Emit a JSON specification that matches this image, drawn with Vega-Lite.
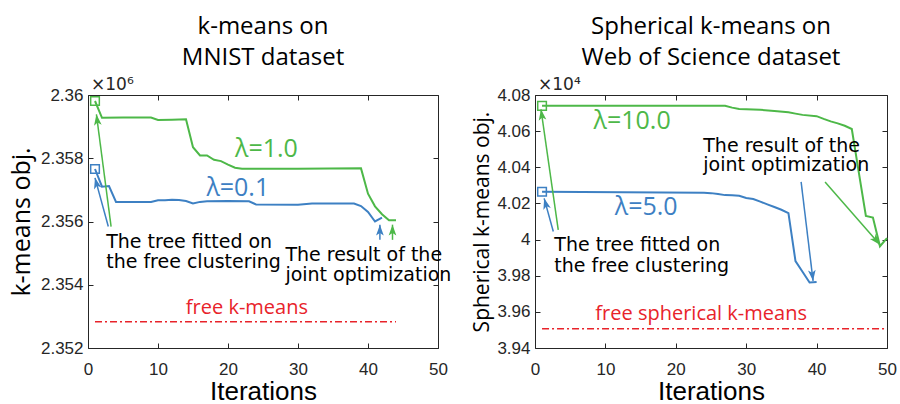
{
  "$schema": "https://vega.github.io/schema/vega-lite/v6.json",
  "background": "white",
  "padding": {"left": 8, "top": 14, "right": 8, "bottom": 0},
  "bounds": "flush",
  "spacing": 97,
  "datasets": {
    "lines": [
      {"panel": "L", "series": "g", "x": 1, "y": 2.35981},
      {"panel": "L", "series": "g", "x": 2, "y": 2.35928},
      {"panel": "L", "series": "g", "x": 5, "y": 2.35929},
      {"panel": "L", "series": "g", "x": 9, "y": 2.35929},
      {"panel": "L", "series": "g", "x": 10, "y": 2.35921},
      {"panel": "L", "series": "g", "x": 12, "y": 2.35922},
      {"panel": "L", "series": "g", "x": 14, "y": 2.35923},
      {"panel": "L", "series": "g", "x": 15, "y": 2.35835},
      {"panel": "L", "series": "g", "x": 16, "y": 2.35809},
      {"panel": "L", "series": "g", "x": 17, "y": 2.35809},
      {"panel": "L", "series": "g", "x": 18, "y": 2.35795},
      {"panel": "L", "series": "g", "x": 19, "y": 2.35791},
      {"panel": "L", "series": "g", "x": 20, "y": 2.3578},
      {"panel": "L", "series": "g", "x": 21, "y": 2.3577},
      {"panel": "L", "series": "g", "x": 22, "y": 2.35767},
      {"panel": "L", "series": "g", "x": 30, "y": 2.35767},
      {"panel": "L", "series": "g", "x": 39, "y": 2.35768},
      {"panel": "L", "series": "g", "x": 40, "y": 2.35688},
      {"panel": "L", "series": "g", "x": 41, "y": 2.35648},
      {"panel": "L", "series": "g", "x": 42, "y": 2.35623},
      {"panel": "L", "series": "g", "x": 43, "y": 2.35604},
      {"panel": "L", "series": "g", "x": 44, "y": 2.35604},
      {"panel": "L", "series": "b", "x": 1, "y": 2.35766},
      {"panel": "L", "series": "b", "x": 2, "y": 2.3571},
      {"panel": "L", "series": "b", "x": 3, "y": 2.35712},
      {"panel": "L", "series": "b", "x": 4, "y": 2.35662},
      {"panel": "L", "series": "b", "x": 9, "y": 2.35662},
      {"panel": "L", "series": "b", "x": 10, "y": 2.35667},
      {"panel": "L", "series": "b", "x": 11, "y": 2.35667},
      {"panel": "L", "series": "b", "x": 12, "y": 2.35669},
      {"panel": "L", "series": "b", "x": 13, "y": 2.35668},
      {"panel": "L", "series": "b", "x": 14, "y": 2.35665},
      {"panel": "L", "series": "b", "x": 15, "y": 2.35657},
      {"panel": "L", "series": "b", "x": 16, "y": 2.35662},
      {"panel": "L", "series": "b", "x": 17, "y": 2.35664},
      {"panel": "L", "series": "b", "x": 20, "y": 2.35665},
      {"panel": "L", "series": "b", "x": 23, "y": 2.35664},
      {"panel": "L", "series": "b", "x": 24, "y": 2.35654},
      {"panel": "L", "series": "b", "x": 30, "y": 2.35653},
      {"panel": "L", "series": "b", "x": 32, "y": 2.35657},
      {"panel": "L", "series": "b", "x": 38, "y": 2.35657},
      {"panel": "L", "series": "b", "x": 39, "y": 2.35649},
      {"panel": "L", "series": "b", "x": 40, "y": 2.3563},
      {"panel": "L", "series": "b", "x": 41, "y": 2.356},
      {"panel": "L", "series": "b", "x": 42, "y": 2.35612},
      {"panel": "R", "series": "g", "x": 1, "y": 4.074},
      {"panel": "R", "series": "g", "x": 27, "y": 4.074},
      {"panel": "R", "series": "g", "x": 28, "y": 4.073},
      {"panel": "R", "series": "g", "x": 29, "y": 4.0722},
      {"panel": "R", "series": "g", "x": 32, "y": 4.0718},
      {"panel": "R", "series": "g", "x": 34, "y": 4.0712},
      {"panel": "R", "series": "g", "x": 36, "y": 4.0704},
      {"panel": "R", "series": "g", "x": 37, "y": 4.0697},
      {"panel": "R", "series": "g", "x": 38, "y": 4.069},
      {"panel": "R", "series": "g", "x": 40, "y": 4.0683},
      {"panel": "R", "series": "g", "x": 41, "y": 4.0668},
      {"panel": "R", "series": "g", "x": 42, "y": 4.0654},
      {"panel": "R", "series": "g", "x": 43, "y": 4.0643},
      {"panel": "R", "series": "g", "x": 44, "y": 4.063},
      {"panel": "R", "series": "g", "x": 45, "y": 4.0612},
      {"panel": "R", "series": "g", "x": 46, "y": 4.037},
      {"panel": "R", "series": "g", "x": 47, "y": 4.0131},
      {"panel": "R", "series": "g", "x": 48, "y": 4.0122},
      {"panel": "R", "series": "g", "x": 49, "y": 3.9963},
      {"panel": "R", "series": "g", "x": 50, "y": 4.0008},
      {"panel": "R", "series": "b", "x": 1, "y": 4.02645},
      {"panel": "R", "series": "b", "x": 24, "y": 4.0259},
      {"panel": "R", "series": "b", "x": 25, "y": 4.0257},
      {"panel": "R", "series": "b", "x": 26, "y": 4.0252},
      {"panel": "R", "series": "b", "x": 27, "y": 4.0246},
      {"panel": "R", "series": "b", "x": 28, "y": 4.0245},
      {"panel": "R", "series": "b", "x": 29, "y": 4.0242},
      {"panel": "R", "series": "b", "x": 30, "y": 4.023},
      {"panel": "R", "series": "b", "x": 31, "y": 4.0224},
      {"panel": "R", "series": "b", "x": 32, "y": 4.021},
      {"panel": "R", "series": "b", "x": 33, "y": 4.0195},
      {"panel": "R", "series": "b", "x": 34, "y": 4.018},
      {"panel": "R", "series": "b", "x": 35, "y": 4.0165},
      {"panel": "R", "series": "b", "x": 36, "y": 4.0146},
      {"panel": "R", "series": "b", "x": 37, "y": 3.9881},
      {"panel": "R", "series": "b", "x": 38, "y": 3.9822},
      {"panel": "R", "series": "b", "x": 39, "y": 3.9762},
      {"panel": "R", "series": "b", "x": 40, "y": 3.9765}
    ],
    "free": [
      {"panel": "L", "x": 1, "y": 2.35283},
      {"panel": "L", "x": 44, "y": 2.35283},
      {"panel": "R", "x": 1, "y": 3.9506},
      {"panel": "R", "x": 50, "y": 3.9506}
    ],
    "squares": [
      {"panel": "L", "series": "g", "x": 1, "y": 2.35981},
      {"panel": "L", "series": "b", "x": 1, "y": 2.35766},
      {"panel": "R", "series": "g", "x": 1, "y": 4.074},
      {"panel": "R", "series": "b", "x": 1, "y": 4.02645}
    ],
    "arrows": [
      {"panel": "L", "id": "a1", "series": "g", "x": 3.3, "y": 2.35584},
      {"panel": "L", "id": "a1", "series": "g", "x": 1.2, "y": 2.35939},
      {"panel": "L", "id": "a2", "series": "b", "x": 2.9, "y": 2.35584},
      {"panel": "L", "id": "a2", "series": "b", "x": 1.0, "y": 2.35738},
      {"panel": "L", "id": "a3", "series": "b", "x": 41.7, "y": 2.35542},
      {"panel": "L", "id": "a3", "series": "b", "x": 41.7, "y": 2.3559},
      {"panel": "L", "id": "a4", "series": "g", "x": 43.5, "y": 2.35542},
      {"panel": "L", "id": "a4", "series": "g", "x": 43.5, "y": 2.3559},
      {"panel": "R", "id": "a5", "series": "g", "x": 3.3, "y": 4.0054},
      {"panel": "R", "id": "a5", "series": "g", "x": 0.85, "y": 4.0721},
      {"panel": "R", "id": "a6", "series": "b", "x": 2.6, "y": 4.0045},
      {"panel": "R", "id": "a6", "series": "b", "x": 1.3, "y": 4.0228},
      {"panel": "R", "id": "a7", "series": "b", "x": 37.8, "y": 4.0319},
      {"panel": "R", "id": "a7", "series": "b", "x": 39.5, "y": 3.9771},
      {"panel": "R", "id": "a8", "series": "g", "x": 41.2, "y": 4.0319},
      {"panel": "R", "id": "a8", "series": "g", "x": 49.0, "y": 3.9972}
    ],
    "heads": [
      {"panel": "L", "series": "g", "x": 1.2, "y": 2.35939, "angle": -7.6},
      {"panel": "L", "series": "b", "x": 1.0, "y": 2.35738, "angle": -14.6},
      {"panel": "L", "series": "b", "x": 41.7, "y": 2.3559, "angle": 0},
      {"panel": "L", "series": "g", "x": 43.5, "y": 2.3559, "angle": 0},
      {"panel": "R", "series": "g", "x": 0.85, "y": 4.0721, "angle": -8.1},
      {"panel": "R", "series": "b", "x": 1.3, "y": 4.0228, "angle": -15.6},
      {"panel": "R", "series": "b", "x": 39.5, "y": 3.9771, "angle": 173.3},
      {"panel": "R", "series": "g", "x": 49.0, "y": 3.9972, "angle": 139}
    ],
    "labels": [
      {"panel": "L", "kind": "note", "x": 2.6, "y": 2.355365, "text": "The tree fitted on"},
      {"panel": "L", "kind": "note", "x": 2.6, "y": 2.35473, "text": "the free clustering"},
      {"panel": "L", "kind": "note", "x": 28.2, "y": 2.35494, "text": "The result of the"},
      {"panel": "L", "kind": "note", "x": 28.2, "y": 2.35431, "text": "joint optimization"},
      {"panel": "R", "kind": "note", "x": 2.74, "y": 3.9972, "text": "The tree fitted on"},
      {"panel": "R", "kind": "note", "x": 2.74, "y": 3.9853, "text": "the free clustering"},
      {"panel": "R", "kind": "note", "x": 23.9, "y": 4.052, "text": "The result of the"},
      {"panel": "R", "kind": "note", "x": 23.9, "y": 4.0411, "text": "joint optimization"},
      {"panel": "L", "kind": "lambda", "series": "g", "x": 25.5, "y": 2.35828, "text": "λ=1.0"},
      {"panel": "L", "kind": "lambda", "series": "b", "x": 21.4, "y": 2.35706, "text": "λ=0.1"},
      {"panel": "R", "kind": "lambda", "series": "g", "x": 13.8, "y": 4.0657, "text": "λ=10.0"},
      {"panel": "R", "kind": "lambda", "series": "b", "x": 15.8, "y": 4.0182, "text": "λ=5.0"},
      {"panel": "L", "kind": "free", "series": "r", "x": 22.7, "y": 2.35325, "text": "free k-means"},
      {"panel": "R", "kind": "free", "series": "r", "x": 23.6, "y": 3.959, "text": "free spherical k-means"},
      {"panel": "L", "kind": "exp", "x": 0, "y": 2.36, "text": "×10⁶"},
      {"panel": "R", "kind": "exp", "x": 0, "y": 4.08, "text": "×10⁴"}
    ]
  },
  "config": {
    "view": {"stroke": "#262626", "strokeWidth": 1},
    "axis": {
      "domain": false,
      "grid": false,
      "labelFlush": false,
      "tickColor": "#262626",
      "tickSize": -5,
      "labelColor": "#262626",
      "labelFont": "Liberation Sans",
      "labelFontSize": 17,
      "titleColor": "#000000",
      "titleFont": "Open Sans",
      "titleFontWeight": "normal"
    },
    "title": {"font": "Open Sans", "fontSize": 24, "fontWeight": "normal", "color": "#000000", "lineHeight": 31, "offset": 6, "anchor": "middle"}
  },
  "hconcat": [
    {
      "width": 350,
      "height": 253,
      "title": {"text": ["k-means on", "MNIST dataset"]},
      "resolve": {"axis": {"x": "independent", "y": "independent"}},
      "layer": [
        {
          "data": {"name": "lines"},
          "transform": [{"filter": "datum.panel === 'L'"}],
          "mark": {"type": "line", "strokeWidth": 2},
          "encoding": {
            "x": {"field": "x", "type": "quantitative", "scale": {"domain": [0, 50]}, "axis": {"orient": "bottom", "values": [0, 10, 20, 30, 40, 50], "labelPadding": 18, "title": "Iterations", "titleFont": "Liberation Sans", "titleFontSize": 26, "titlePadding": 1}},
            "y": {"field": "y", "type": "quantitative", "scale": {"domain": [2.352, 2.36], "zero": false}, "axis": {"orient": "left", "values": [2.352, 2.354, 2.356, 2.358, 2.36], "format": ".4~g", "labelPadding": 10, "title": "k-means obj.", "titleFontSize": 25, "titlePadding": 6}},
            "color": {"field": "series", "type": "nominal", "scale": {"domain": ["g", "b", "r"], "range": ["#4db848", "#3d80c3", "#e8232a"]}, "legend": null},
            "detail": {"field": "series"}
          }
        },
        {
          "data": {"name": "free"},
          "transform": [{"filter": "datum.panel === 'L'"}],
          "mark": {"type": "line", "color": "#e8232a", "strokeWidth": 1.5, "strokeDash": [7, 3, 2, 3]},
          "encoding": {
            "x": {"field": "x", "type": "quantitative", "axis": {"orient": "top", "values": [0, 10, 20, 30, 40, 50], "labels": false, "title": null}},
            "y": {"field": "y", "type": "quantitative", "axis": {"orient": "right", "values": [2.352, 2.354, 2.356, 2.358, 2.36], "labels": false, "title": null}}
          }
        },
        {
          "data": {"name": "arrows"},
          "transform": [{"filter": "datum.panel === 'L'"}],
          "mark": {"type": "line", "strokeWidth": 1.5},
          "encoding": {
            "x": {"field": "x", "type": "quantitative", "axis": null},
            "y": {"field": "y", "type": "quantitative", "axis": null},
            "color": {"field": "series", "type": "nominal", "legend": null},
            "detail": {"field": "id"}
          }
        },
        {
          "data": {"name": "heads"},
          "transform": [{"filter": "datum.panel === 'L'"}],
          "mark": {"type": "point", "shape": "M0,0L0.7,2L0,1.5L-0.7,2Z", "filled": true, "size": 120, "opacity": 1},
          "encoding": {
            "x": {"field": "x", "type": "quantitative", "axis": null},
            "y": {"field": "y", "type": "quantitative", "axis": null},
            "color": {"field": "series", "type": "nominal", "legend": null},
            "angle": {"field": "angle", "type": "quantitative", "scale": null}
          }
        },
        {
          "data": {"name": "squares"},
          "transform": [{"filter": "datum.panel === 'L'"}],
          "mark": {"type": "point", "shape": "square", "filled": false, "size": 75, "strokeWidth": 1.5, "opacity": 1},
          "encoding": {
            "x": {"field": "x", "type": "quantitative", "axis": null},
            "y": {"field": "y", "type": "quantitative", "axis": null},
            "color": {"field": "series", "type": "nominal", "legend": null}
          }
        },
        {
          "data": {"name": "labels"},
          "transform": [{"filter": "datum.panel === 'L' && datum.kind === 'note'"}],
          "mark": {"type": "text", "align": "left", "baseline": "middle", "font": "DejaVu Sans", "fontSize": 19, "color": "#000000"},
          "encoding": {
            "x": {"field": "x", "type": "quantitative", "axis": null},
            "y": {"field": "y", "type": "quantitative", "axis": null},
            "text": {"field": "text"}
          }
        },
        {
          "data": {"name": "labels"},
          "transform": [{"filter": "datum.panel === 'L' && datum.kind === 'lambda'"}],
          "mark": {"type": "text", "align": "center", "baseline": "middle", "font": "Open Sans", "fontSize": 25},
          "encoding": {
            "x": {"field": "x", "type": "quantitative", "axis": null},
            "y": {"field": "y", "type": "quantitative", "axis": null},
            "text": {"field": "text"},
            "color": {"field": "series", "type": "nominal", "legend": null}
          }
        },
        {
          "data": {"name": "labels"},
          "transform": [{"filter": "datum.panel === 'L' && datum.kind === 'free'"}],
          "mark": {"type": "text", "align": "center", "baseline": "middle", "font": "Open Sans", "fontSize": 20},
          "encoding": {
            "x": {"field": "x", "type": "quantitative", "axis": null},
            "y": {"field": "y", "type": "quantitative", "axis": null},
            "text": {"field": "text"},
            "color": {"field": "series", "type": "nominal", "legend": null}
          }
        },
        {
          "data": {"name": "labels"},
          "transform": [{"filter": "datum.panel === 'L' && datum.kind === 'exp'"}],
          "mark": {"type": "text", "align": "left", "baseline": "bottom", "dx": 3, "dy": -1, "font": "DejaVu Sans", "fontSize": 17, "color": "#262626"},
          "encoding": {
            "x": {"field": "x", "type": "quantitative", "axis": null},
            "y": {"field": "y", "type": "quantitative", "axis": null},
            "text": {"field": "text"}
          }
        }
      ]
    },
    {
      "width": 352,
      "height": 253,
      "title": {"text": ["Spherical k-means on", "Web of Science dataset"]},
      "resolve": {"axis": {"x": "independent", "y": "independent"}},
      "layer": [
        {
          "data": {"name": "lines"},
          "transform": [{"filter": "datum.panel === 'R'"}],
          "mark": {"type": "line", "strokeWidth": 2},
          "encoding": {
            "x": {"field": "x", "type": "quantitative", "scale": {"domain": [0, 50]}, "axis": {"orient": "bottom", "values": [0, 10, 20, 30, 40, 50], "labelPadding": 18, "title": "Iterations", "titleFont": "Liberation Sans", "titleFontSize": 26, "titlePadding": 1}},
            "y": {"field": "y", "type": "quantitative", "scale": {"domain": [3.94, 4.08], "zero": false}, "axis": {"orient": "left", "values": [3.94, 3.96, 3.98, 4, 4.02, 4.04, 4.06, 4.08], "format": ".3~g", "labelPadding": 10, "title": "Spherical k-means obj.", "titleFontSize": 21, "titlePadding": 4}},
            "color": {"field": "series", "type": "nominal", "scale": {"domain": ["g", "b", "r"], "range": ["#4db848", "#3d80c3", "#e8232a"]}, "legend": null},
            "detail": {"field": "series"}
          }
        },
        {
          "data": {"name": "free"},
          "transform": [{"filter": "datum.panel === 'R'"}],
          "mark": {"type": "line", "color": "#e8232a", "strokeWidth": 1.5, "strokeDash": [7, 3, 2, 3]},
          "encoding": {
            "x": {"field": "x", "type": "quantitative", "axis": {"orient": "top", "values": [0, 10, 20, 30, 40, 50], "labels": false, "title": null}},
            "y": {"field": "y", "type": "quantitative", "axis": {"orient": "right", "values": [3.94, 3.96, 3.98, 4, 4.02, 4.04, 4.06, 4.08], "labels": false, "title": null}}
          }
        },
        {
          "data": {"name": "arrows"},
          "transform": [{"filter": "datum.panel === 'R'"}],
          "mark": {"type": "line", "strokeWidth": 1.5},
          "encoding": {
            "x": {"field": "x", "type": "quantitative", "axis": null},
            "y": {"field": "y", "type": "quantitative", "axis": null},
            "color": {"field": "series", "type": "nominal", "legend": null},
            "detail": {"field": "id"}
          }
        },
        {
          "data": {"name": "heads"},
          "transform": [{"filter": "datum.panel === 'R'"}],
          "mark": {"type": "point", "shape": "M0,0L0.7,2L0,1.5L-0.7,2Z", "filled": true, "size": 120, "opacity": 1},
          "encoding": {
            "x": {"field": "x", "type": "quantitative", "axis": null},
            "y": {"field": "y", "type": "quantitative", "axis": null},
            "color": {"field": "series", "type": "nominal", "legend": null},
            "angle": {"field": "angle", "type": "quantitative", "scale": null}
          }
        },
        {
          "data": {"name": "squares"},
          "transform": [{"filter": "datum.panel === 'R'"}],
          "mark": {"type": "point", "shape": "square", "filled": false, "size": 75, "strokeWidth": 1.5, "opacity": 1},
          "encoding": {
            "x": {"field": "x", "type": "quantitative", "axis": null},
            "y": {"field": "y", "type": "quantitative", "axis": null},
            "color": {"field": "series", "type": "nominal", "legend": null}
          }
        },
        {
          "data": {"name": "labels"},
          "transform": [{"filter": "datum.panel === 'R' && datum.kind === 'note'"}],
          "mark": {"type": "text", "align": "left", "baseline": "middle", "font": "DejaVu Sans", "fontSize": 19, "color": "#000000"},
          "encoding": {
            "x": {"field": "x", "type": "quantitative", "axis": null},
            "y": {"field": "y", "type": "quantitative", "axis": null},
            "text": {"field": "text"}
          }
        },
        {
          "data": {"name": "labels"},
          "transform": [{"filter": "datum.panel === 'R' && datum.kind === 'lambda'"}],
          "mark": {"type": "text", "align": "center", "baseline": "middle", "font": "Open Sans", "fontSize": 25},
          "encoding": {
            "x": {"field": "x", "type": "quantitative", "axis": null},
            "y": {"field": "y", "type": "quantitative", "axis": null},
            "text": {"field": "text"},
            "color": {"field": "series", "type": "nominal", "legend": null}
          }
        },
        {
          "data": {"name": "labels"},
          "transform": [{"filter": "datum.panel === 'R' && datum.kind === 'free'"}],
          "mark": {"type": "text", "align": "center", "baseline": "middle", "font": "Open Sans", "fontSize": 20},
          "encoding": {
            "x": {"field": "x", "type": "quantitative", "axis": null},
            "y": {"field": "y", "type": "quantitative", "axis": null},
            "text": {"field": "text"},
            "color": {"field": "series", "type": "nominal", "legend": null}
          }
        },
        {
          "data": {"name": "labels"},
          "transform": [{"filter": "datum.panel === 'R' && datum.kind === 'exp'"}],
          "mark": {"type": "text", "align": "left", "baseline": "bottom", "dx": 3, "dy": -1, "font": "DejaVu Sans", "fontSize": 17, "color": "#262626"},
          "encoding": {
            "x": {"field": "x", "type": "quantitative", "axis": null},
            "y": {"field": "y", "type": "quantitative", "axis": null},
            "text": {"field": "text"}
          }
        }
      ]
    }
  ]
}
